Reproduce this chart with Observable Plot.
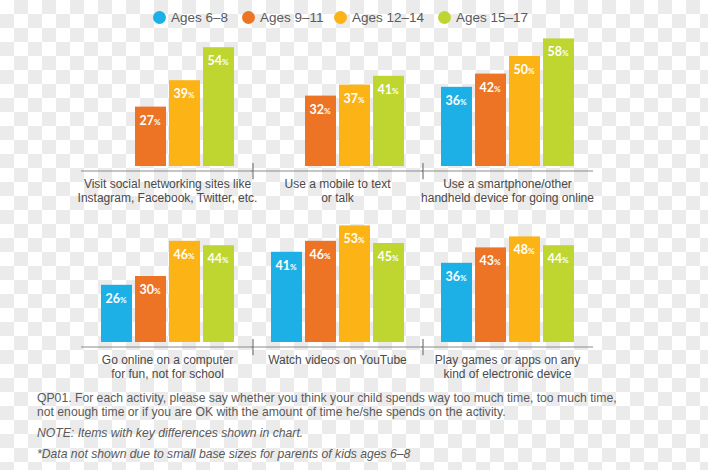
<!DOCTYPE html>
<html>
<head>
<meta charset="utf-8">
<script src="https://cdn.jsdelivr.net/npm/d3@7"></script>
<script src="https://cdn.jsdelivr.net/npm/@observablehq/plot@0.6"></script>
<style>
  html, body { margin: 0; padding: 0; }
  body {
    width: 708px; height: 470px; overflow: hidden; position: relative;
    background: repeating-conic-gradient(#ebebeb 0 25%, #ffffff 0 50%) 0 0 / 28px 28px;
    font-family: "Liberation Sans Narrow", "Liberation Sans", sans-serif;
  }
  #legend { position: relative; height: 34px; }
  .li { position: absolute; top: 0; height: 34px; display: flex; align-items: center; }
  .dot { width: 13px; height: 13px; border-radius: 50%; margin-right: 5px; }
  .lt { font-size: 13.5px; color: #5a5a5a; }
  #chart svg { display: block; }
  #caption { padding-left: 37px; color: #5a5a5a; font-size: 12.2px; line-height: 14px; }
  #caption p { margin: 0; }
</style>
</head>
<body>
<div id="legend"></div>
<div id="chart"></div>
<div id="caption"></div>
<script>
// ---- data ----
const ages = ["Ages 6–8", "Ages 9–11", "Ages 12–14", "Ages 15–17"];
const colors = ["#1cb0e6", "#ec7424", "#fbb316", "#bed62f"];
const activities = [
  "Visit social networking sites like\nInstagram, Facebook, Twitter, etc.",
  "Use a mobile to text\nor talk",
  "Use a smartphone/other\nhandheld device for going online",
  "Go online on a computer\nfor fun, not for school",
  "Watch videos on YouTube",
  "Play games or apps on any\nkind of electronic device"
];
const age6_8   = [null, null, 36, 26, 41, 36];
const age9_11  = [27, 32, 42, 30, 46, 43];
const age12_14 = [39, 37, 50, 46, 53, 48];
const age15_17 = [54, 41, 58, 44, 45, 44];
const captionLines = [
  "QP01. For each activity, please say whether you think your child spends way too much time, too much time,<br>not enough time or if you are OK with the amount of time he/she spends on the activity.",
  "<i>NOTE: Items with key differences shown in chart.</i>",
  "<i>*Data not shown due to small base sizes for parents of kids ages 6–8</i>"
];

// ---- tables ----
const series = [age6_8, age9_11, age12_14, age15_17];
const rows = [];
activities.forEach((a, i) => {
  series.forEach((s, j) => {
    if (s[i] != null) rows.push({col: i % 3, row: Math.floor(i / 3), age: ages[j], value: s[i]});
  });
});
const cats = activities.map((a, i) => ({col: i % 3, row: Math.floor(i / 3), label: a}));
const seps = cats.filter(d => d.col < 2);

// ---- legend ----
const legendX = [153, 242, 334, 438];
const legend = document.getElementById("legend");
ages.forEach((a, i) => {
  const el = document.createElement("div");
  el.className = "li";
  el.style.left = legendX[i] + "px";
  el.innerHTML = `<div class="dot" style="background:${colors[i]}"></div><span class="lt">${a}</span>`;
  legend.appendChild(el);
});

// ---- chart ----
const font = "'Liberation Sans Narrow', 'Liberation Sans', sans-serif";
const plot = Plot.plot({
  width: 708,
  height: 352,
  marginTop: 0,
  marginLeft: 99,
  marginRight: 133,
  marginBottom: 44,
  fx: {domain: [0, 1, 2], paddingInner: 0.2, paddingOuter: 0, axis: null},
  fy: {domain: [0, 1], paddingInner: 0.25, paddingOuter: 0, axis: null},
  x: {domain: ages, paddingInner: 0.09, paddingOuter: 0, axis: null},
  y: {domain: [0, 60], axis: null},
  color: {domain: ages, range: colors},
  style: {background: "transparent", fontFamily: font, overflow: "visible"},
  marks: [
    Plot.ruleY([0], {dy: 4.5, stroke: "#8c8c8c", strokeWidth: 1.2, insetLeft: -18, insetRight: -18}),
    Plot.ruleX(seps, {fx: "col", fy: "row", x: () => ages[3], y1: 1.4, y2: -6, dx: 34, stroke: "#777", strokeWidth: 1.2}),
    Plot.barY(rows, {fx: "col", fy: "row", x: "age", y: "value", fill: "age"}),
    Plot.text(rows, {fx: "col", fy: "row", x: "age", y: "value", text: d => String(d.value),
      fill: "white", fontSize: 12.5, fontWeight: "bold", fontFamily: "Lato", textAnchor: "end",
      lineAnchor: "bottom", dx: 3, dy: 17.5}),
    Plot.text(rows, {fx: "col", fy: "row", x: "age", y: "value", text: () => "%",
      fill: "white", fontSize: 8, fontWeight: "bold", fontFamily: "Lato", textAnchor: "start",
      lineAnchor: "bottom", dx: 3, dy: 17.5}),
    Plot.text(cats, {fx: "col", fy: "row", text: "label", frameAnchor: "bottom", lineAnchor: "top",
      dy: 11.5, fontSize: 12, lineHeight: 1.17, fill: "#4a4a4a"})
  ]
});
document.getElementById("chart").appendChild(plot);

// ---- caption ----
const cap = document.getElementById("caption");
captionLines.forEach((t, i) => {
  const p = document.createElement("p");
  p.innerHTML = t;
  p.style.marginTop = (i === 0 ? 5 : 7) + "px";
  cap.appendChild(p);
});
</script>
</body>
</html>
